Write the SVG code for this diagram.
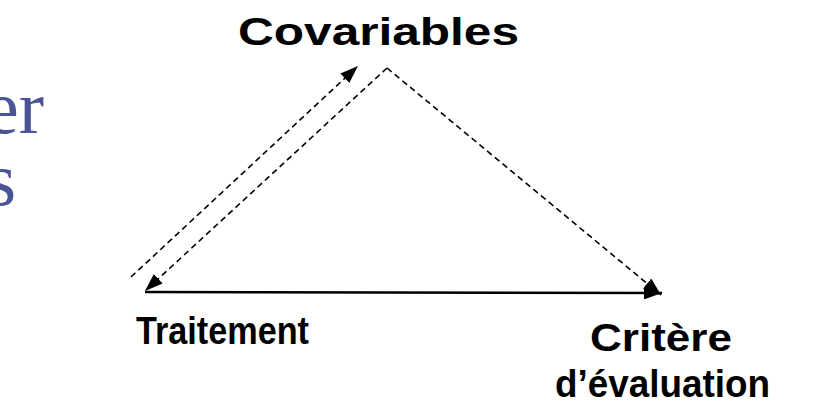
<svg xmlns="http://www.w3.org/2000/svg" width="818" height="409" viewBox="0 0 818 409">
<style>
.lbl{font-family:"Liberation Sans",Arial,sans-serif;font-weight:bold;font-size:38px;fill:#000}
.ttl{font-family:"Liberation Serif","Times New Roman",serif;font-size:76px;fill:#4b5494}
.dash{stroke:#000;stroke-width:1.6;stroke-dasharray:6 4;fill:none}
.solid{stroke:#000;stroke-width:2.4;fill:none}
</style>
<defs>
<marker id="ah" viewBox="0 0 18 13" refX="18" refY="6.5" markerWidth="18" markerHeight="13" markerUnits="userSpaceOnUse" orient="auto">
<path d="M0,0 L18,6.5 L0,13 z" fill="#000"/>
</marker>
</defs>
<rect width="818" height="409" fill="#fff"/>
<g id="title">
<text class="ttl" x="44" y="133" text-anchor="end">er</text>
<text class="ttl" x="16" y="205" text-anchor="end">s</text>
</g>
<g id="connectors">
<line class="dash" x1="131" y1="277" x2="358" y2="66" marker-end="url(#ah)"/>
<line class="dash" x1="387" y1="68" x2="145" y2="291" marker-end="url(#ah)"/>
<line class="dash" x1="387" y1="68" x2="661" y2="295" marker-end="url(#ah)"/>
<line class="solid" x1="145" y1="292" x2="662" y2="293" marker-end="url(#ah)"/>
</g>
<g id="covariables"><text class="lbl" x="238" y="45" font-size="43" textLength="281" lengthAdjust="spacingAndGlyphs">Covariables</text></g>
<g id="traitement"><text class="lbl" x="136" y="344" textLength="173" lengthAdjust="spacingAndGlyphs">Traitement</text></g>
<g id="critere">
<text class="lbl" x="590" y="351" textLength="142" lengthAdjust="spacingAndGlyphs">Critère</text>
<text class="lbl" x="555" y="397" textLength="215" lengthAdjust="spacingAndGlyphs">d’évaluation</text>
</g>
</svg>
